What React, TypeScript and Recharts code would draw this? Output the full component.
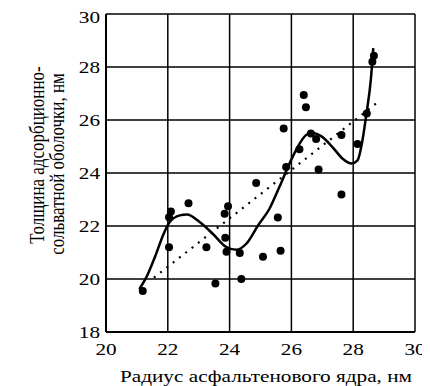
import {
  CartesianGrid,
  ComposedChart,
  Label,
  Line,
  Scatter,
  XAxis,
  YAxis,
} from "recharts";

const xTicks = [20, 22, 24, 26, 28, 30];
const yTicks = [18, 20, 22, 24, 26, 28, 30];

const xTitle = "Радиус асфальтенового ядра, нм";
const yTitleLines = ["Толщина адсорбционно-", "сольватной оболочки, нм"];

// measured points (radius, thickness)
const measured = [
  { x: 21.19, y: 19.55 },
  { x: 22.04, y: 21.2 },
  { x: 22.04, y: 22.33 },
  { x: 22.1, y: 22.55 },
  { x: 22.67, y: 22.86 },
  { x: 23.25, y: 21.2 },
  { x: 23.54, y: 19.83 },
  { x: 23.84, y: 22.46 },
  { x: 23.86, y: 21.56 },
  { x: 23.9, y: 21.03 },
  { x: 23.95, y: 22.75 },
  { x: 24.33, y: 20.98 },
  { x: 24.38, y: 20.0 },
  { x: 24.86, y: 23.62 },
  { x: 25.08, y: 20.84 },
  { x: 25.56, y: 22.32 },
  { x: 25.65, y: 21.07 },
  { x: 25.75, y: 25.68 },
  { x: 25.83, y: 24.23 },
  { x: 26.26, y: 24.9 },
  { x: 26.4, y: 26.94 },
  { x: 26.47, y: 26.48 },
  { x: 26.63, y: 25.49 },
  { x: 26.8, y: 25.28 },
  { x: 26.88, y: 24.13 },
  { x: 27.62, y: 25.43 },
  { x: 27.62, y: 23.19 },
  { x: 28.14, y: 25.09 },
  { x: 28.44, y: 26.25 },
  { x: 28.62, y: 28.2 },
  { x: 28.67, y: 28.42 },
];

// smooth fitted curve
const curve = [
  { x: 21.08, y: 19.62 },
  { x: 21.3, y: 20.05 },
  { x: 21.59, y: 20.85 },
  { x: 21.86, y: 21.69 },
  { x: 22.05, y: 22.13 },
  { x: 22.39, y: 22.4 },
  { x: 22.62, y: 22.43 },
  { x: 23.04, y: 22.14 },
  { x: 23.47, y: 21.69 },
  { x: 23.9, y: 21.2 },
  { x: 24.22, y: 21.1 },
  { x: 24.54, y: 21.33 },
  { x: 24.92, y: 22.02 },
  { x: 25.29, y: 22.65 },
  { x: 25.61, y: 23.47 },
  { x: 25.94, y: 24.36 },
  { x: 26.2, y: 24.98 },
  { x: 26.47, y: 25.43 },
  { x: 26.65, y: 25.52 },
  { x: 26.96, y: 25.39 },
  { x: 27.33, y: 24.98 },
  { x: 27.65, y: 24.55 },
  { x: 27.95, y: 24.36 },
  { x: 28.14, y: 24.48 },
  { x: 28.3, y: 25.24 },
  { x: 28.43, y: 26.25 },
  { x: 28.57, y: 27.51 },
  { x: 28.65, y: 28.71 },
];

// linear trend
const trend = [
  { x: 21.55, y: 20.05 },
  { x: 28.85, y: 26.72 },
];

const font = "Liberation Serif, Tinos, serif";
const fs = 17;
// the source figure is stretched sideways, so is the text
const sx = 1.25;

function XTick(props: any) {
  const { x, y, payload } = props;
  return (
    <text
      transform={`translate(${x}, ${y + 12}) scale(${sx}, 1)`}
      textAnchor="middle"
      fontFamily={font}
      fontSize={fs}
      fill="#000"
    >
      {payload.value}
    </text>
  );
}

function YTick(props: any) {
  const { x, y, payload } = props;
  return (
    <text
      transform={`translate(${x}, ${y + 6}) scale(${sx}, 1)`}
      textAnchor="end"
      fontFamily={font}
      fontSize={fs}
      fill="#000"
    >
      {payload.value}
    </text>
  );
}

function YTitle() {
  return (
    <g fontFamily={font} fontSize={fs} fill="#000">
      <text
        textAnchor="middle"
        transform={`translate(36, 147) scale(${sx}, 1) rotate(-90)`}
      >
        {yTitleLines[0]}
      </text>
      <text
        textAnchor="middle"
        transform={`translate(56, 156) scale(${sx}, 1) rotate(-90)`}
      >
        {yTitleLines[1]}
      </text>
    </g>
  );
}

function XTitle() {
  return (
    <text
      transform={`translate(258, 374) scale(${sx}, 1)`}
      textAnchor="middle"
      fontFamily={font}
      fontSize={fs}
      fill="#000"
    >
      {xTitle}
    </text>
  );
}

export default function App() {
  return (
    <div style={{ fontFamily: font }}>
      <ComposedChart
        width={422}
        height={378}
        margin={{ top: 6, right: 15, bottom: 0, left: 0 }}
      >
        <CartesianGrid stroke="#000" strokeWidth={1.5} />
        <XAxis
          dataKey="x"
          type="number"
          domain={[20, 30]}
          ticks={xTicks}
          allowDataOverflow
          height={54}
          tick={<XTick />}
          tickLine={false}
          tickMargin={5}
          axisLine={{ stroke: "#000", strokeWidth: 2 }}
        >
          <Label content={<XTitle />} />
        </XAxis>
        <YAxis
          dataKey="y"
          type="number"
          domain={[18, 30]}
          ticks={yTicks}
          allowDataOverflow
          width={98}
          tick={<YTick />}
          tickLine={false}
          tickMargin={0}
          axisLine={{ stroke: "#000", strokeWidth: 2 }}
        >
          <Label content={<YTitle />} />
        </YAxis>
        <Line
          data={trend}
          dataKey="y"
          type="linear"
          stroke="#000"
          strokeWidth={2.2}
          strokeDasharray="2 6"
          dot={false}
          activeDot={false}
          isAnimationActive={false}
        />
        <Line
          data={curve}
          dataKey="y"
          type="monotone"
          stroke="#000"
          strokeWidth={2.5}
          dot={false}
          activeDot={false}
          isAnimationActive={false}
        />
        <Scatter
          data={measured}
          dataKey="y"
          fill="#000"
          isAnimationActive={false}
          shape={(p: any) => <circle cx={p.cx} cy={p.cy} r={4} fill="#000" />}
        />
      </ComposedChart>
    </div>
  );
}
